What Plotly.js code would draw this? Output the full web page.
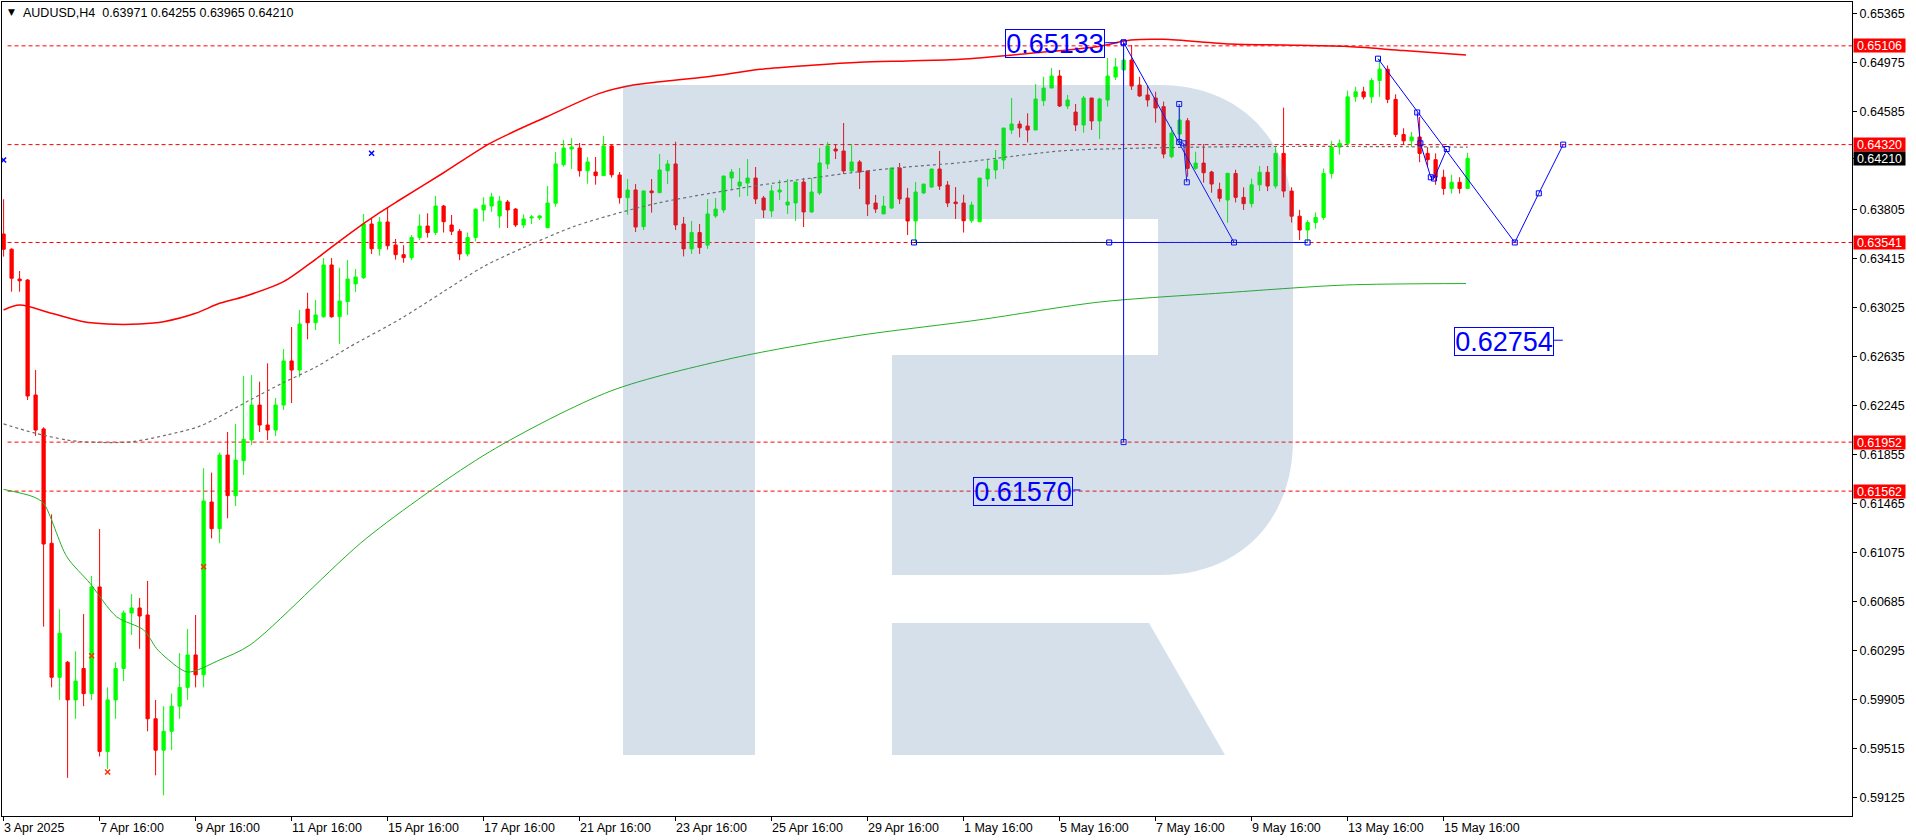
<!DOCTYPE html>
<html><head><meta charset="utf-8">
<script src="https://cdn.plot.ly/plotly-3.0.1.min.js"></script>
<style>html,body{margin:0;padding:0;background:#fff;overflow:hidden}#chart{width:1916px;height:840px}</style>
</head><body><div id="chart"></div>
<script>
// ---------- DATA ----------
const barOpen = [.63608,.63487,.63250,.63242,.62327,.62057,.61147,.60080,.60200,.59900,.60150,.59950,.60799,.59490,.59900,.60150,.60592,.60632,.60576,.59750,.59500,.59650,.59850,.60000,.60258,.60100,.61475,.61263,.61849,.61526,.61804,.61969,.62247,.62088,.62048,.62247,.62598,.62526,.63011,.62902,.62950,.63362,.62950,.63070,.63211,.63261,.63688,.63491,.63704,.63521,.63444,.63420,.63580,.63672,.63620,.63831,.63680,.63630,.63450,.63580,.63800,.63831,.63752,.63863,.63807,.63680,.63736,.63736,.63659,.63853,.64160,.64285,.64293,.64112,.64102,.64073,.64309,.64078,.63897,.63959,.63667,.63951,.63937,.64112,.64166,.63688,.63490,.63620,.63520,.63752,.63800,.64054,.63990,.64014,.64054,.63895,.63792,.63943,.63839,.63855,.64022,.63784,.63935,.64166,.64285,.64269,.64110,.64182,.64110,.63855,.63768,.63815,.64134,.63895,.63712,.63935,.63982,.64126,.63998,.63863,.63855,.63714,.63706,.64046,.64118,.64197,.64436,.64484,.64468,.64436,.64669,.64770,.64866,.64627,.64579,.64476,.64691,.64508,.64675,.64858,.64914,.64993,.64794,.64715,.64691,.64622,.64224,.64404,.64510,.64131,.64173,.64102,.63964,.63879,.64090,.63900,.63850,.64000,.64100,.63990,.64250,.63950,.63750,.63640,.63700,.63740,.64090,.64300,.64330,.64700,.64740,.64700,.64830,.64920,.64680,.64400,.64350,.64380,.64250,.64200,.64060,.63970,.64020,.63971];
const barHigh = [.63885,.63495,.63314,.63250,.62526,.62070,.61377,.60621,.60210,.60287,.60584,.60887,.61260,.60000,.60200,.60612,.60742,.60711,.60847,.59900,.59850,.59950,.60273,.60465,.60576,.61744,.61709,.61868,.62032,.62096,.62478,.62486,.62433,.62579,.62303,.62693,.62868,.63004,.63141,.63083,.63417,.63417,.63340,.63402,.63330,.63768,.63736,.63744,.63823,.63569,.63520,.63600,.63765,.63773,.63911,.63840,.63760,.63648,.63620,.63813,.63901,.63937,.63911,.63879,.63815,.63765,.63760,.63760,.63991,.64261,.64357,.64373,.64333,.64221,.64221,.64388,.64320,.64102,.64046,.64006,.63955,.64046,.64245,.64197,.64343,.63744,.63712,.63688,.63887,.63895,.64070,.64126,.64134,.64205,.64142,.63911,.63998,.64038,.64046,.64022,.64054,.64054,.64293,.64341,.64325,.64492,.64325,.64197,.64110,.63919,.63911,.64134,.64174,.63975,.64022,.64006,.64126,.64269,.64030,.63982,.63921,.63866,.64054,.64205,.64277,.64452,.64691,.64510,.64569,.64802,.64860,.64930,.64914,.64715,.64643,.64707,.64691,.64693,.65009,.65009,.65133,.65113,.64860,.64794,.64741,.64662,.64462,.64611,.64532,.64263,.64325,.64112,.64017,.64092,.64120,.63980,.64050,.64150,.64150,.64310,.64614,.63980,.63800,.63720,.63780,.64130,.64350,.64360,.64750,.64780,.64780,.64850,.65000,.64950,.64720,.64450,.64420,.64540,.64300,.64250,.64120,.64080,.64060,.64255];
const barLow = [.63428,.63149,.63149,.62287,.62001,.60483,.60000,.59900,.59280,.59750,.59850,.59900,.59450,.59350,.59750,.60050,.60417,.60307,.59650,.59300,.59140,.59500,.59750,.59900,.60000,.60000,.61186,.61147,.61346,.61443,.61690,.61929,.62033,.61969,.62000,.62208,.62263,.62468,.62770,.62844,.62942,.62942,.62733,.62964,.63147,.63250,.63449,.63436,.63484,.63404,.63380,.63400,.63560,.63580,.63600,.63620,.63600,.63400,.63430,.63550,.63710,.63786,.63656,.63656,.63664,.63656,.63688,.63720,.63654,.63826,.64144,.64126,.64065,.64009,.64001,.64070,.64057,.63850,.63762,.63624,.63640,.63778,.63937,.64006,.63640,.63430,.63450,.63450,.63490,.63736,.63776,.63967,.63903,.63911,.63847,.63736,.63744,.63879,.63768,.63712,.63664,.63776,.63919,.64126,.64205,.64086,.64094,.63967,.63752,.63776,.63768,.63807,.63847,.63600,.63541,.63927,.63975,.63959,.63823,.63728,.63620,.63698,.63706,.63985,.64046,.64126,.64404,.64378,.64338,.64436,.64627,.64770,.64619,.64603,.64428,.64415,.64436,.64365,.64622,.64834,.64914,.64755,.64701,.64622,.64494,.64211,.64211,.64330,.64064,.64118,.64017,.63937,.63865,.63698,.63860,.63800,.63820,.63950,.63950,.63970,.63900,.63700,.63560,.63541,.63650,.63720,.64050,.64240,.64300,.64660,.64680,.64650,.64700,.64650,.64380,.64320,.64300,.64180,.64150,.64000,.63920,.63930,.63930,.63965];
const barClose = [.63487,.63256,.63236,.62319,.62048,.61141,.60080,.60431,.59900,.60050,.59950,.60799,.59490,.59900,.60150,.60592,.60632,.60568,.59750,.59500,.59650,.59850,.60000,.60258,.60100,.61483,.61263,.61849,.61526,.61809,.61974,.62247,.62088,.62048,.62247,.62598,.62526,.62892,.62902,.62964,.63362,.62950,.63075,.63250,.63266,.63688,.63491,.63704,.63515,.63444,.63420,.63580,.63672,.63620,.63831,.63706,.63630,.63450,.63580,.63805,.63839,.63903,.63871,.63800,.63680,.63728,.63744,.63752,.63855,.64166,.64293,.64301,.64112,.64182,.64073,.64309,.64080,.63897,.63959,.63664,.63951,.63937,.64118,.64166,.63680,.63490,.63620,.63500,.63768,.63807,.64070,.64102,.64022,.64054,.63887,.63800,.63951,.63959,.63863,.64022,.63784,.63943,.64174,.64309,.64269,.64110,.64182,.64102,.63847,.63807,.63831,.64134,.63887,.63712,.63943,.64006,.64126,.63990,.63855,.63850,.63714,.63839,.64054,.64126,.64197,.64452,.64484,.64452,.64436,.64683,.64770,.64866,.64627,.64675,.64476,.64691,.64508,.64683,.64866,.64938,.64993,.64786,.64707,.64675,.64611,.64245,.64412,.64516,.64131,.64173,.64096,.64006,.63893,.64092,.63900,.63850,.64000,.64100,.63990,.64250,.63950,.63750,.63640,.63700,.63740,.64090,.64300,.64330,.64700,.64740,.64700,.64830,.64920,.64680,.64400,.64350,.64380,.64250,.64200,.64060,.63970,.64020,.63971,.64210];

const dateTickIdx  = [0,12,24,36,48,60,72,84,96,108,120,132,144,156,168,180];
const dateTickText = ['3 Apr 2025','7 Apr 16:00','9 Apr 16:00','11 Apr 16:00','15 Apr 16:00','17 Apr 16:00','21 Apr 16:00','23 Apr 16:00','25 Apr 16:00','29 Apr 16:00','1 May 16:00','5 May 16:00','7 May 16:00','9 May 16:00','13 May 16:00','15 May 16:00'];
const priceTicks = [0.65365,0.64975,0.64585,0.63805,0.63415,0.63025,0.62635,0.62245,0.61855,0.61465,0.61075,0.60685,0.60295,0.59905,0.59515,0.59125];
const levelPrices = [0.65106,0.64320,0.63541,0.61952,0.61562];
const lastPrice = 0.64210;
const titleText = 'AUDUSD,H4  0.63971 0.64255 0.63965 0.64210';

const redMaIdx = [0,2,6,10,13,17,20,24,27,30,35,39,43,47,49.5,55,60.8,67.9,74.5,78.7,82,88,94.6,101,107,113,119.6,128.4,136.6,140.9,145,153.3,160,167.6,175,182.8];
const redMaVal = [.63004,.63043,.62977,.62910,.62892,.62892,.62910,.62977,.63057,.63109,.63229,.63407,.63600,.63778,.63879,.64096,.64330,.64542,.64728,.64794,.64820,.64860,.64919,.64951,.64975,.64986,.64999,.65047,.65099,.65152,.65158,.65121,.65113,.65102,.65068,.65033];
const grayMaIdx = [0,3.7,7.9,10.4,15.8,20.4,24.6,30.8,34.9,39.1,43.3,49.5,55,60,65,71.2,77,82,88.3,94.6,100.8,107,113.3,119.6,124.1,132.4,140.8,153.3,168,183];
const grayMaVal = [.62097,.62027,.61969,.61953,.61953,.62009,.62081,.62287,.62423,.62552,.62712,.62929,.63150,.63350,.63500,.63666,.63778,.63858,.63932,.63998,.64052,.64104,.64144,.64176,.64211,.64271,.64290,.64303,.64305,.64300];
const greenMaIdx = [0,3.7,5,7.9,10.8,14.1,17.5,19.1,20.4,23,27,30.8,45.4,60.7,75.9,91.2,106.5,121.7,137,152.3,167.6,182.8];
const greenMaVal = [.61576,.61517,.61465,.61040,.60828,.60563,.60457,.60311,.60231,.60122,.60218,.60337,.61189,.61873,.62359,.62621,.62797,.62923,.63067,.63139,.63202,.63214];

// drawn objects (bar index, price)
const peakIdx = 140, peakPrice = 0.65133, targetLow = 0.61952;
const zig1Idx = [140,153.8], zig1Val = [0.65133,0.63541];
const baseDarkIdx = [113.8,138.2], baseBlueIdx = [138.2,163], baseVal = 0.63541;
const zig2Idx = [171.8,188.9,191.9,194.95], zig2Val = [0.65004,0.63541,0.63932,0.64320];
const zig3Idx = [146.95,146.95,147.5,147.9], zig3Val = [0.64643,0.64341,0.64330,0.64020];
const zig4Idx = [176.7,177.1,178.4,178.8,180.4], zig4Val = [0.64576,0.64330,0.64060,0.64050,0.64285];
const blueXIdx = [0,46], blueXVal = [0.64197,0.64251];
const redXIdx = [11,25,13], redXVal = [0.60252,0.60960,0.59326];
const priceLabels = [{t:'0.65133', i:131.4, p:0.65121, lineTo:139.3},{t:'0.62754', i:187.5, p:0.62753, lineTo:194.9},{t:'0.61570', i:127.4, p:0.61561, lineTo:134.6}];

// ---------- GEOMETRY ----------
const W=1916,H=840, L=2, R=64, T=2, B=24;
const PW=W-L-R, PH=H-T-B;
const px = x => (x-L)/PW;
const py = y => 1-(y-T)/PH;
const idx = barOpen.map((_,i)=>i);
const font = 'Liberation Sans, Arial, sans-serif';
const sq = {symbol:'square-open',size:5,color:'#0000ff'};

const traces = [
  {type:'scatter',mode:'lines',x:greenMaIdx,y:greenMaVal,line:{color:'#22b022',width:1,shape:'spline',smoothing:0.8},hoverinfo:'skip'},
  {type:'scatter',mode:'lines',x:grayMaIdx,y:grayMaVal,line:{color:'#6e6e6e',width:1.2,dash:'3px,3px',shape:'spline',smoothing:0.8},hoverinfo:'skip'},
  {type:'scatter',mode:'lines',x:redMaIdx,y:redMaVal,line:{color:'#ff0000',width:1.5,shape:'spline',smoothing:0.8},hoverinfo:'skip'},
  {type:'candlestick',x:idx,open:barOpen,high:barHigh,low:barLow,close:barClose,whiskerwidth:0,
   increasing:{line:{color:'#00ff00',width:1},fillcolor:'#00ff00'},
   decreasing:{line:{color:'#ff0000',width:1},fillcolor:'#ff0000'},hoverinfo:'skip'},
  {type:'scatter',mode:'lines',x:baseDarkIdx,y:[baseVal,baseVal],line:{color:'#1a1a40',width:1},hoverinfo:'skip'},
  {type:'scatter',mode:'lines+markers',x:baseBlueIdx,y:[baseVal,baseVal],line:{color:'#0000ff',width:1},marker:sq,hoverinfo:'skip'},
  {type:'scatter',mode:'lines+markers',x:[peakIdx,peakIdx],y:[peakPrice,targetLow],line:{color:'#0000ff',width:1},marker:sq,hoverinfo:'skip'},
  {type:'scatter',mode:'lines+markers',x:zig1Idx,y:zig1Val,line:{color:'#0000ff',width:1},marker:sq,hoverinfo:'skip'},
  {type:'scatter',mode:'markers',x:[baseDarkIdx[0]],y:[baseVal],marker:sq,hoverinfo:'skip'},
  {type:'scatter',mode:'lines+markers',x:zig2Idx,y:zig2Val,line:{color:'#0000ff',width:1},marker:sq,hoverinfo:'skip'},
  {type:'scatter',mode:'lines+markers',x:zig3Idx,y:zig3Val,line:{color:'#0000ff',width:1},marker:sq,hoverinfo:'skip'},
  {type:'scatter',mode:'lines+markers',x:zig4Idx,y:zig4Val,line:{color:'#0000ff',width:1},marker:sq,hoverinfo:'skip'},
  {type:'scatter',mode:'markers',x:blueXIdx,y:blueXVal,marker:{symbol:'x-thin-open',size:5,color:'#0000ff',line:{width:1.5,color:'#0000ff'}},hoverinfo:'skip'},
  {type:'scatter',mode:'markers',x:redXIdx,y:redXVal,marker:{symbol:'x-thin-open',size:5,color:'#ff3000',line:{width:1.5,color:'#ff3000'}},hoverinfo:'skip'}
];

// logo (pixel coords -> paper)
function P(cmds){ return cmds.map(c=>{ if(typeof c==='string') return c; return px(c[0]).toFixed(5)+','+py(c[1]).toFixed(5); }).join(' '); }
const logoPath = [
  P(['M',[623,85],'L',[755,85],'L',[755,755],'L',[623,755],'Z']),
  P(['M',[755,85],'L',[1160,85],'C',[1240,85],[1293,140],[1293,220],'L',[1293,440],'C',[1293,520],[1240,575],[1160,575],'L',[892,575],'L',[892,355],'L',[1158,355],'L',[1158,219],'L',[755,219],'Z']),
  P(['M',[892,623],'L',[1149,623],'L',[1225,755],'L',[892,755],'Z'])
].join(' ');

const shapes = [];
levelPrices.forEach(p=>shapes.push({type:'line',xref:'paper',x0:0.003,x1:1,yref:'y',y0:p,y1:p,line:{color:'#ff0000',width:1,dash:'4px,3px'},layer:'below'}));
shapes.push({type:'path',xref:'paper',yref:'paper',path:logoPath,fillcolor:'rgba(71,116,165,0.224)',line:{width:0},layer:'above'});
priceLabels.forEach(l=>{ shapes.push({type:'line',xref:'x',yref:'y',x0:l.i+6.3,x1:l.lineTo,y0:l.p+0.0001,y1:l.p+0.0001,line:{color:'#0000ff',width:1},layer:'above'}); });
shapes.push({type:'line',xref:'paper',yref:'y',x0:1,x1:1.003,y0:lastPrice,y1:lastPrice,line:{color:'#000',width:1}});

const annotations = [];
dateTickIdx.forEach((v,k)=>annotations.push({xref:'x',x:v,yref:'paper',y:0,xanchor:'left',yanchor:'top',yshift:-3,xshift:-2,showarrow:false,text:dateTickText[k],font:{family:font,size:12.5,color:'#000'}}));
levelPrices.forEach(p=>annotations.push({xref:'paper',x:1,xanchor:'left',xshift:1,yref:'y',y:p,yanchor:'middle',showarrow:false,text:p.toFixed(5),bgcolor:'#ff0000',width:51,height:13,borderpad:0,font:{family:font,size:12.5,color:'#fff'}}));
annotations.push({xref:'paper',x:1,xanchor:'left',xshift:1,yref:'y',y:lastPrice,yanchor:'middle',showarrow:false,text:lastPrice.toFixed(5),bgcolor:'#000',width:51,height:13,borderpad:0,font:{family:font,size:12.5,color:'#fff'}});
annotations.push({xref:'paper',x:px(6),yref:'paper',y:py(12),xanchor:'left',yanchor:'middle',showarrow:false,text:'▼',font:{family:'DejaVu Sans',size:9,color:'#000'}});
annotations.push({xref:'paper',x:px(21),yref:'paper',y:py(12.5),xanchor:'left',yanchor:'middle',showarrow:false,text:titleText.replace(/ /g,'&nbsp;'),font:{family:font,size:12.5,color:'#000'}});
priceLabels.forEach(l=>annotations.push({xref:'x',x:l.i,yref:'y',y:l.p,xanchor:'center',yanchor:'middle',showarrow:false,text:l.t,width:98,height:27,borderpad:0,bordercolor:'#0000ff',borderwidth:1,font:{family:font,size:27,color:'#0000ff'}}));

const layout = {
  width:W,height:H,margin:{l:L,r:R,t:T,b:B,pad:0},paper_bgcolor:'#fff',plot_bgcolor:'#fff',showlegend:false,hovermode:false,
  boxgap:0.42,
  xaxis:{range:[(L-3.6)/8,(L+PW-3.6)/8],showgrid:false,zeroline:false,showline:true,mirror:true,linecolor:'#000',linewidth:1,
         tickvals:dateTickIdx,ticks:'outside',ticklen:4,tickcolor:'#000',showticklabels:false,rangeslider:{visible:false},fixedrange:true},
  yaxis:{side:'right',range:[0.589761,0.654550],showgrid:false,zeroline:false,showline:true,mirror:true,linecolor:'#000',linewidth:1,
         tickvals:priceTicks,ticktext:priceTicks.map(v=>v.toFixed(5)),ticks:'outside',ticklen:4,tickcolor:'#000',
         tickfont:{family:font,size:12.5,color:'#000'},fixedrange:true},
  shapes:shapes,annotations:annotations
};
Plotly.newPlot('chart',traces,layout,{staticPlot:true,displayModeBar:false});
</script></body></html>
